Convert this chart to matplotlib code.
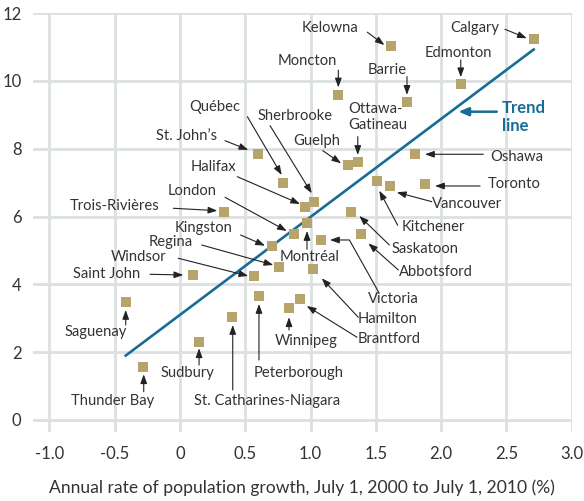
import matplotlib.pyplot as plt

plt.rcParams['font.family'] = ['Lato', 'DejaVu Sans']

# data: census metropolitan areas
cities = ['Calgary', 'Kelowna', 'Edmonton', 'Moncton', 'Barrie', 'Ottawa-\nGatineau',
          'Guelph', 'Oshawa', 'Toronto', 'Kitchener', 'Vancouver', 'Saskatoon',
          'Abbotsford', 'Montréal', 'London', 'Victoria', 'Hamilton', 'Brantford',
          'Winnipeg', 'Halifax', 'Sherbrooke', 'Québec', 'St. John’s', 'Trois-Rivières',
          'Kingston', 'Regina', 'Windsor', 'Saint John', 'Peterborough',
          'St. Catharines-Niagara', 'Sudbury', 'Saguenay', 'Thunder Bay']
growth = [2.71, 1.62, 2.15, 1.21, 1.74, 1.36,
          1.285, 1.80, 1.875, 1.51, 1.61, 1.31,
          1.385, 0.97, 0.87, 1.08, 1.02, 0.92,
          0.835, 0.955, 1.03, 0.79, 0.60, 0.34,
          0.705, 0.76, 0.567, 0.097, 0.605,
          0.40, 0.146, -0.416, -0.28]
yvals = [11.23, 11.03, 9.91, 9.58, 9.37, 7.62,
         7.53, 7.84, 6.95, 7.04, 6.90, 6.14,
         5.48, 5.82, 5.48, 5.31, 4.44, 3.56,
         3.29, 6.27, 6.43, 6.98, 7.84, 6.14,
         5.14, 4.50, 4.25, 4.28, 3.67,
         3.03, 2.31, 3.47, 1.56]

trend_x = [-0.416, 2.71]
trend_y = [1.90, 10.93]

xticks = [-1.0, -0.5, 0, 0.5, 1.0, 1.5, 2.0, 2.5, 3.0]
xtick_labels = ['-1.0', '-0.5', '0', '0.5', '1.0', '1.5', '2.0', '2.5', '3.0']
yticks = [0, 2, 4, 6, 8, 10, 12]

# label layout: text pos, horizontal alignment, arrow start, arrow end
layout = [
    ((2.261, 11.56), 'center', (2.490, 11.525), (2.657, 11.26)),
    ((1.146, 11.56), 'center', (1.435, 11.44), (1.566, 11.06)),
    ((2.130, 10.82), 'center', (2.151, 10.62), (2.151, 10.11)),
    ((0.973, 10.60), 'center', (1.213, 10.32), (1.213, 9.81)),
    ((1.586, 10.33), 'center', (1.739, 10.13), (1.739, 9.59)),
    ((1.287, 8.93), 'left', (1.362, 8.357), (1.362, 7.817)),
    ((1.044, 8.22), 'center', (1.094, 7.944), (1.234, 7.572)),
    ((2.580, 7.75), 'center', (2.324, 7.838), (1.877, 7.838)),
    ((2.559, 6.953), 'center', (2.299, 6.903), (1.954, 6.903)),
    ((1.944, 5.684), 'center', (1.668, 5.743), (1.527, 6.764)),
    ((2.197, 6.363), 'center', (1.929, 6.440), (1.661, 6.717)),
    ((1.877, 5.044), 'center', (1.604, 5.162), (1.374, 6.018)),
    ((1.964, 4.375), 'center', (1.673, 4.425), (1.443, 5.212)),
    ((0.992, 4.817), 'center', (0.973, 5.035), (0.973, 5.575)),
    ((0.090, 6.764), 'center', (0.345, 6.569), (0.818, 5.575)),
    ((1.634, 3.569), 'center', (1.520, 3.785), (1.149, 5.310)),
    ((1.590, 2.979), 'center', (1.366, 3.029), (1.086, 4.180)),
    ((1.605, 2.389), 'center', (1.356, 2.440), (0.971, 3.363)),
    ((0.966, 2.330), 'center', (0.835, 2.655), (0.835, 3.03)),
    ((0.258, 7.454), 'center', (0.439, 7.177), (0.920, 6.372)),
    ((0.879, 8.976), 'center', (0.690, 8.681), (1.009, 6.687)),
    ((0.264, 9.224), 'center', (0.516, 8.947), (0.779, 7.227)),
    ((0.048, 8.386), 'center', (0.345, 8.239), (0.523, 7.965)),
    ((-0.502, 6.313), 'center', (-0.051, 6.245), (0.286, 6.174)),
    ((0.184, 5.655), 'center', (0.465, 5.457), (0.651, 5.142)),
    ((-0.069, 5.26), 'center', (0.166, 5.162), (0.715, 4.572)),
    ((-0.314, 4.817), 'center', (-0.013, 4.77), (0.523, 4.248)),
    ((-0.559, 4.307), 'center', (-0.230, 4.298), (0.025, 4.277)),
    ((0.910, 1.395), 'center', (0.605, 1.77), (0.605, 3.422)),
    ((0.665, 0.569), 'center', (0.404, 0.885), (0.404, 2.802)),
    ((0.054, 1.395), 'center', (0.146, 1.622), (0.146, 2.115)),
    ((-0.648, 2.605), 'center', (-0.416, 2.802), (-0.416, 3.245)),
    ((-0.515, 0.569), 'center', (-0.278, 0.835), (-0.278, 1.348)),
]

text_col = '#333333'
blue = '#176d98'
tan = '#b7a46d'
grid_col = '#dde0e1'

fig = plt.figure(figsize=(5.84, 5.01), dpi=100)
ax = fig.add_axes([0.0557, 0.138, 0.923, 0.8357])
ax.set_xlim(-1.13, 3.0)
ax.set_ylim(-0.35, 12)

for x in xticks:
    ax.axvline(x, ymax=1, color=grid_col, lw=2, zorder=0)
for y in yticks:
    ax.axhline(y, color=grid_col, lw=2, zorder=0)

ax.plot(trend_x, trend_y, color=blue, lw=1.9, zorder=2)
ax.scatter(growth, yvals, marker='s', s=52, color=tan, lw=0, zorder=3)

for name, (tpos, ha, a0, a1) in zip(cities, layout):
    ax.text(tpos[0], tpos[1], name, ha=ha, va='center', fontsize=10.6,
            color=text_col, multialignment='left', zorder=4)
    cs = 'arc3'
    if name == 'Victoria':
        cs = 'angle,angleA=119.3,angleB=0,rad=0'
    ax.annotate('', xy=a1, xytext=a0,
                arrowprops=dict(arrowstyle='-|>,head_length=0.55,head_width=0.2',
                                color='#222222', lw=0.8, shrinkA=0, shrinkB=0,
                                connectionstyle=cs), zorder=4)

# trend line label
ax.text(2.464, 8.94, 'Trend\nline', ha='left', va='center', fontsize=12,
        fontweight='bold', color=blue, linespacing=1.1)
ax.annotate('', xy=(2.133, 9.094), xytext=(2.427, 9.094),
            arrowprops=dict(arrowstyle='-|>,head_length=0.6,head_width=0.25',
                            color=blue, lw=1.8, shrinkA=0, shrinkB=0))

for s in ax.spines.values():
    s.set_visible(False)
ax.set_xticks(xticks)
ax.set_xticklabels(xtick_labels)
ax.set_yticks(yticks)
ax.tick_params(length=0, labelsize=12, colors=text_col)
ax.tick_params(axis='x', pad=10)
ax.tick_params(axis='y', pad=8)
ax.set_xlabel('Annual rate of population growth, July 1, 2000 to July 1, 2010 (%)',
              fontsize=12.6, color=text_col, labelpad=13)

fig.savefig('out.png', dpi=100)
